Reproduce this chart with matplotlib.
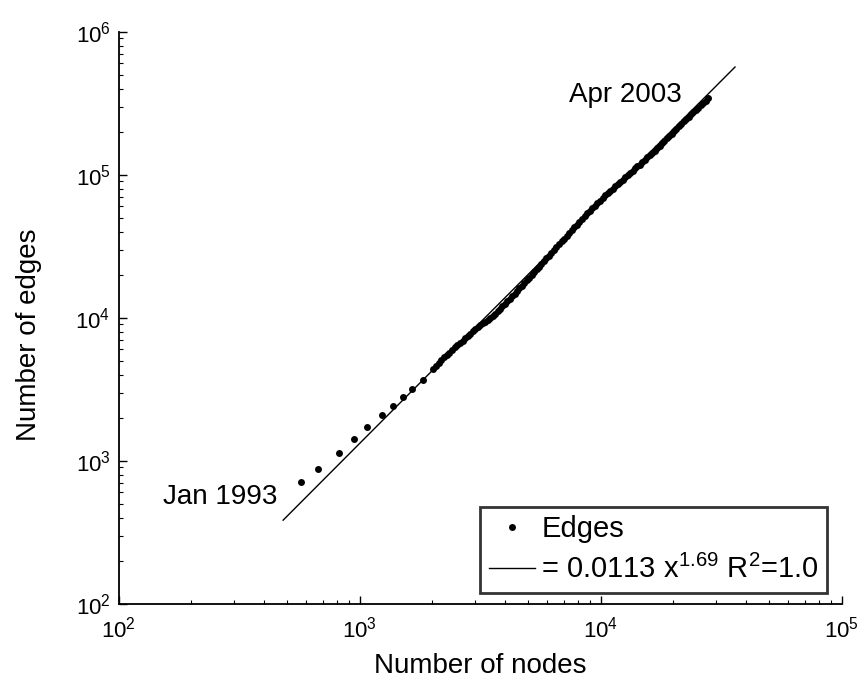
## edges vs nodes growth, log-log with power-law fit
import matplotlib
matplotlib.use("Agg")
from matplotlib import pyplot as plt

plt.rcParams['font.family'] = ['Liberation Sans', 'DejaVu Sans']
plt.rcParams['mathtext.fontset'] = 'custom'
plt.rcParams['mathtext.rm'] = 'Liberation Sans'
plt.rcParams['mathtext.it'] = 'Liberation Sans'

# monthly snapshots, Jan 1993 .. Apr 2003
nodes = [568, 667, 815, 948, 1073, 1238, 1377, 1514, 1648, 1832,
         2014, 2065, 2120, 2175, 2230, 2290, 2350, 2410, 2470, 2535,
         2600, 2665, 2730, 2800, 2870, 2940, 3010, 3085, 3160, 3235,
         3310, 3390, 3470, 3555, 3640, 3725, 3810, 3900, 3990, 4085,
         4180, 4280, 4380, 4485, 4590, 4700, 4810, 4925, 5040, 5160,
         5280, 5405, 5530, 5665, 5800, 5940, 6080, 6230, 6380, 6540,
         6700, 6865, 7030, 7205, 7380, 7565, 7750, 7945, 8140, 8345,
         8550, 8765, 8980, 9205, 9430, 9665, 9900, 10150, 10400, 10650,
         10900, 11200, 11450, 11720, 12000, 12300, 12600, 12900, 13200, 13520,
         13850, 14170, 14500, 14850, 15200, 15570, 15950, 16320, 16700, 17100,
         17500, 17920, 18350, 18770, 19200, 19650, 20100, 20570, 21050, 21550,
         22050, 22570, 23100, 23640, 24200, 24770, 25350, 25940, 26550, 27170,
         27800]
edges = [713, 879, 1137, 1426, 1730, 2100, 2427, 2806, 3187, 3680,
         4400, 4620, 4850, 5070, 5300, 5500, 5700, 5950, 6200, 6420,
         6650, 6920, 7200, 7470, 7750, 8020, 8300, 8600, 8900, 9150,
         9400, 9700, 10000, 10350, 10700, 11150, 11600, 12050, 12500, 13000,
         13500, 14100, 14700, 15400, 16100, 16750, 17400, 18250, 19100, 20000,
         21000, 21850, 22700, 23800, 25000, 26000, 27100, 28500, 30000, 31300,
         32600, 34200, 35800, 37300, 38900, 40900, 42900, 44700, 46600, 49000,
         51500, 53700, 56000, 58400, 60800, 63300, 66000, 68800, 71700, 74000,
         76400, 79600, 83000, 85700, 88500, 92200, 96000, 99000, 102200, 106500,
         110900, 114300, 117900, 122700, 127700, 133000, 138500, 143000, 147400, 153300,
         159500, 166000, 172800, 179600, 186600, 194000, 201600, 209600, 218000, 226700,
         235800, 245200, 255000, 265200, 275800, 284700, 293700, 305400, 317600, 330200,
         343200]

# power-law fit from the legend
fit_a = 0.0113
fit_b = 1.69
fit_x = [480, 36000]
fit_y = [fit_a * v ** fit_b for v in fit_x]

fig = plt.figure(figsize=(8.68, 6.9), dpi=100)
ax = fig.add_axes([0.137, 0.125, 0.833, 0.829])

ax.plot(nodes, edges, 'o', color='black', markersize=5, markeredgewidth=0,
        label='Edges')
ax.plot(fit_x, fit_y, '-', color='black', lw=1.0,
        label=r'= 0.0113 x$^{1.69}$ R$^{2}$=1.0')

ax.set_xscale('log')
ax.set_yscale('log')
ax.set_xlim(1e2, 1e5)
ax.set_ylim(1e2, 1e6)

ax.spines['top'].set_visible(False)
ax.spines['right'].set_visible(False)
ax.spines['left'].set_linewidth(1.3)
ax.spines['bottom'].set_linewidth(1.3)
ax.tick_params(which='both', direction='in', labelsize=16, top=False, right=False)
ax.tick_params(axis='x', which='major', pad=9)
ax.tick_params(axis='y', which='major', pad=6)
ax.tick_params(which='major', length=6, width=1)
ax.tick_params(which='minor', length=3, width=0.8)

ax.set_xlabel('Number of nodes', fontsize=20, labelpad=8)
ax.set_ylabel('Number of edges', fontsize=20)
ax.yaxis.set_label_coords(-0.107, 0.47)

ax.annotate('Jan 1993', xy=(nodes[0], edges[0]), xytext=(277 / 868, (690 - 497) / 690),
            textcoords='figure fraction', fontsize=20, ha='right', va='center')
ax.annotate('Apr 2003', xy=(nodes[-1], edges[-1]), xytext=(682 / 868, (690 - 95) / 690),
            textcoords='figure fraction', fontsize=20, ha='right', va='center')

leg = ax.legend(loc='lower right', bbox_to_anchor=(0.98, 0.019), fontsize=21,
                frameon=True, fancybox=False, handlelength=1.6,
                handletextpad=0.2, borderpad=0.3, labelspacing=0.4,
                borderaxespad=0)
leg.get_frame().set_edgecolor('black')
leg.get_frame().set_linewidth(2)

plt.savefig('out.png', dpi=100)
